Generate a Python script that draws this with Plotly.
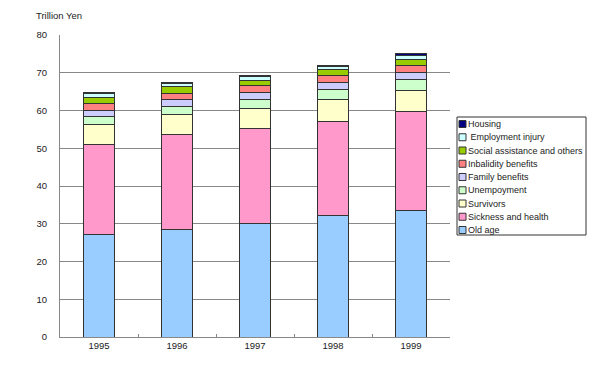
import plotly.graph_objects as go

years = ["1995", "1996", "1997", "1998", "1999"]

# segment values, trillion yen (bottom to top)
old_age      = [27.2, 28.5, 30.2, 32.2, 33.4]
sickness     = [23.9, 25.1, 25.1, 24.9, 26.3]
survivors    = [5.2, 5.4, 5.2, 5.9, 5.7]
unemployment = [2.1, 2.1, 2.4, 2.5, 2.8]
family       = [1.6, 1.9, 1.9, 2.0, 1.9]
invalidity   = [1.9, 1.6, 1.9, 1.7, 1.9]
social       = [1.6, 1.7, 1.3, 1.6, 1.6]
employment   = [1.0, 0.8, 1.1, 0.9, 1.0]
housing      = [0.2, 0.4, 0.3, 0.3, 0.4]

series = [
    ("Old age", old_age, "#99CCFF"),
    ("Sickness and health", sickness, "#FF99CC"),
    ("Survivors", survivors, "#FFFFCC"),
    ("Unempoyment", unemployment, "#CCFFCC"),
    ("Family benefits", family, "#CCCCFF"),
    ("Inbalidity benefits", invalidity, "#FF8080"),
    ("Social assistance and others", social, "#99CC00"),
    (" Employment injury", employment, "#CCFFFF"),
    ("Housing", housing, "#000080"),
]

W, H = 591, 366
L, R, T, B = 60, 141, 35, 29
pw, ph = W - L - R, H - T - B

def px(x):  # pixel -> paper x
    return (x - L) / pw

def py(y):  # pixel -> paper y
    return (H - B - y) / ph

fig = go.Figure()
for name, vals, col in series:
    fig.add_trace(go.Bar(
        x=years, y=vals, name=name, showlegend=False,
        marker=dict(color=col, line=dict(color="#333333", width=1)),
        width=0.4,
    ))

# hand-drawn legend box (compact, like the original)
shapes = [dict(type="rect", xref="paper", yref="paper",
               x0=px(457), x1=px(586), y0=py(235), y1=py(117),
               line=dict(color="#333333", width=1), fillcolor="white")]
annotations = []
for i, (name, vals, col) in enumerate(reversed(series)):
    yc = 124 + i * 13.25
    shapes.append(dict(type="rect", xref="paper", yref="paper",
                       x0=px(459), x1=px(466), y0=py(yc + 3.5), y1=py(yc - 3.5),
                       line=dict(color="#333333", width=1), fillcolor=col))
    annotations.append(dict(text=name, xref="paper", yref="paper",
                            x=px(466), y=py(yc), xanchor="left", yanchor="middle",
                            showarrow=False, font=dict(size=9)))

annotations.append(dict(
    text="Trillion Yen", xref="paper", yref="paper",
    x=px(34), y=py(15), xanchor="left", yanchor="middle",
    showarrow=False, font=dict(size=9.5),
))

fig.update_layout(
    barmode="stack",
    width=W, height=H,
    margin=dict(l=L, r=R, t=T, b=B),
    paper_bgcolor="white", plot_bgcolor="white",
    font=dict(family="Liberation Sans, Arial", size=10, color="#222222"),
    showlegend=False,
    xaxis=dict(
        showline=True, linecolor="#888888", linewidth=1,
        ticks="inside", tickson="boundaries", ticklen=3, tickcolor="#888888",
        tickfont=dict(size=9.5),
    ),
    yaxis=dict(
        range=[0, 80], dtick=10,
        showline=True, linecolor="#888888", linewidth=1,
        showgrid=True, gridcolor="#888888", gridwidth=1,
        zeroline=False, ticks="", ticklabelstandoff=10,
        tickfont=dict(size=9.5),
    ),
    shapes=shapes,
    annotations=annotations,
)

fig.write_html("out.html", config={"displayModeBar": False},
               post_script="document.body.style.margin='0';")
